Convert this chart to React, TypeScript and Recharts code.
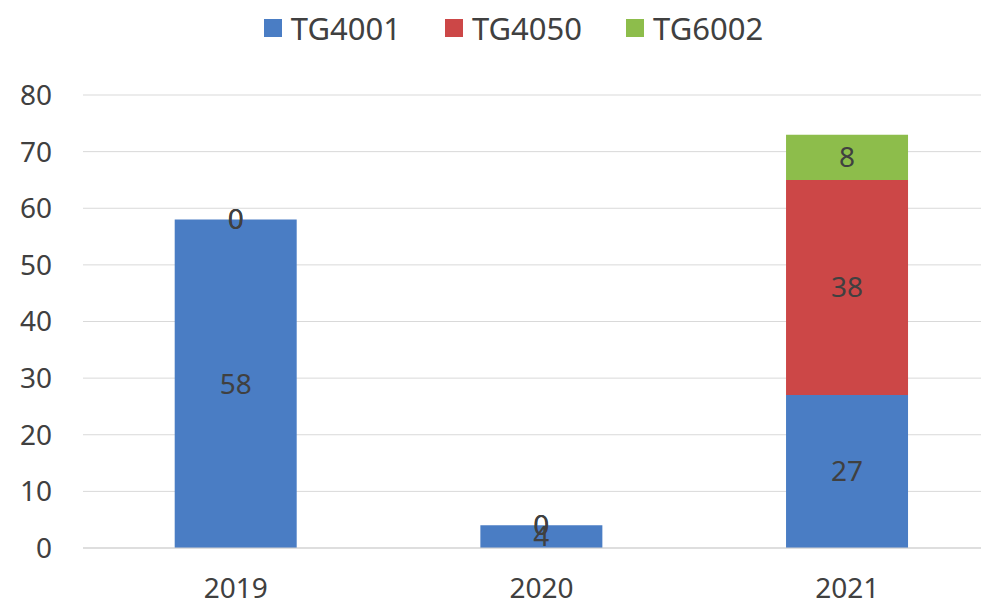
import { Bar, BarChart, CartesianGrid, LabelList, Legend, XAxis, YAxis } from "recharts";

const years = ["2019", "2020", "2021"];
const tg4001 = [58, 4, 27];
const tg4050 = [0, 0, 38];
const tg6002 = [0, 0, 8];
const yTicks = [0, 10, 20, 30, 40, 50, 60, 70, 80];

const seriesInfo = [
  { key: "TG4001", color: "#4a7dc4", values: tg4001 },
  { key: "TG4050", color: "#cc4747", values: tg4050 },
  { key: "TG6002", color: "#8dbd4b", values: tg6002 }
];

const chartData = years.map((year, i) => ({
  year,
  TG4001: tg4001[i],
  TG4050: tg4050[i],
  TG6002: tg6002[i]
}));

const font = '"Noto Sans", sans-serif';
const textColor = "#404040";

function LegendRow() {
  return (
    <div style={{ display: "flex", justifyContent: "center", gap: 44, fontFamily: font, fontSize: 31, color: textColor, paddingLeft: 38 }}>
      {seriesInfo.map((s) => (
        <div key={s.key} style={{ display: "flex", alignItems: "center", gap: 9 }}>
          <span style={{ width: 18, height: 18, background: s.color, display: "inline-block" }} />
          <span style={{ lineHeight: "40px" }}>{s.key}</span>
        </div>
      ))}
    </div>
  );
}

// bars with a zero value have no rect, so their "0" labels are drawn at the
// top of the first series' bar
function BaseLabel(props: any) {
  const { x, y, width, height, value, index } = props;
  const cx = x + width / 2;
  const zeros = seriesInfo.slice(1).filter((s) => s.values[index] === 0);
  return (
    <g>
      <text x={cx} y={y + height / 2} dy="0.35em" textAnchor="middle" fill={textColor} fontFamily={font} fontSize={28}>
        {value}
      </text>
      {zeros.map((s) => (
        <text key={s.key} x={cx} y={y} dy="0.35em" textAnchor="middle" fill={textColor} fontFamily={font} fontSize={28}>
          0
        </text>
      ))}
    </g>
  );
}

export default function App() {
  return (
    <div style={{ margin: -8, width: 989, height: 608, overflow: "hidden", background: "#fff" }}>
      <BarChart
        data={chartData}
        height={608}
        margin={{ bottom: 0, left: 0, right: 0, top: 95 }}
        width={1000}
        barCategoryGap="30%"
      >
        <CartesianGrid stroke="#d9d9d9" vertical={false} />
        <XAxis
          dataKey="year"
          axisLine={{ stroke: "#d0d0d0" }}
          height={60}
          tick={{ fill: textColor, fontFamily: font, fontSize: 28 }}
          tickLine={false}
          tickMargin={30}
          tickSize={0}
        />
        <YAxis
          axisLine={false}
          domain={[0, 80]}
          tick={{ fill: textColor, fontFamily: font, fontSize: 28 }}
          tickLine={false}
          tickMargin={31}
          tickSize={0}
          ticks={yTicks}
          width={83}
        />
        <Legend
          align="center"
          verticalAlign="middle"
          content={() => <LegendRow />}
          wrapperStyle={{ top: 8, left: 0, width: 989 }}
        />
        {seriesInfo.map((s, i) => (
          <Bar key={s.key} dataKey={s.key} fill={s.color} isAnimationActive={false} stackId="a">
            {i === 0 ? (
              <LabelList content={<BaseLabel />} dataKey={s.key} />
            ) : (
              <LabelList
                dataKey={s.key}
                fill={textColor}
                fontFamily={font}
                fontSize={28}
                position="center"
              />
            )}
          </Bar>
        ))}
      </BarChart>
    </div>
  );
}
